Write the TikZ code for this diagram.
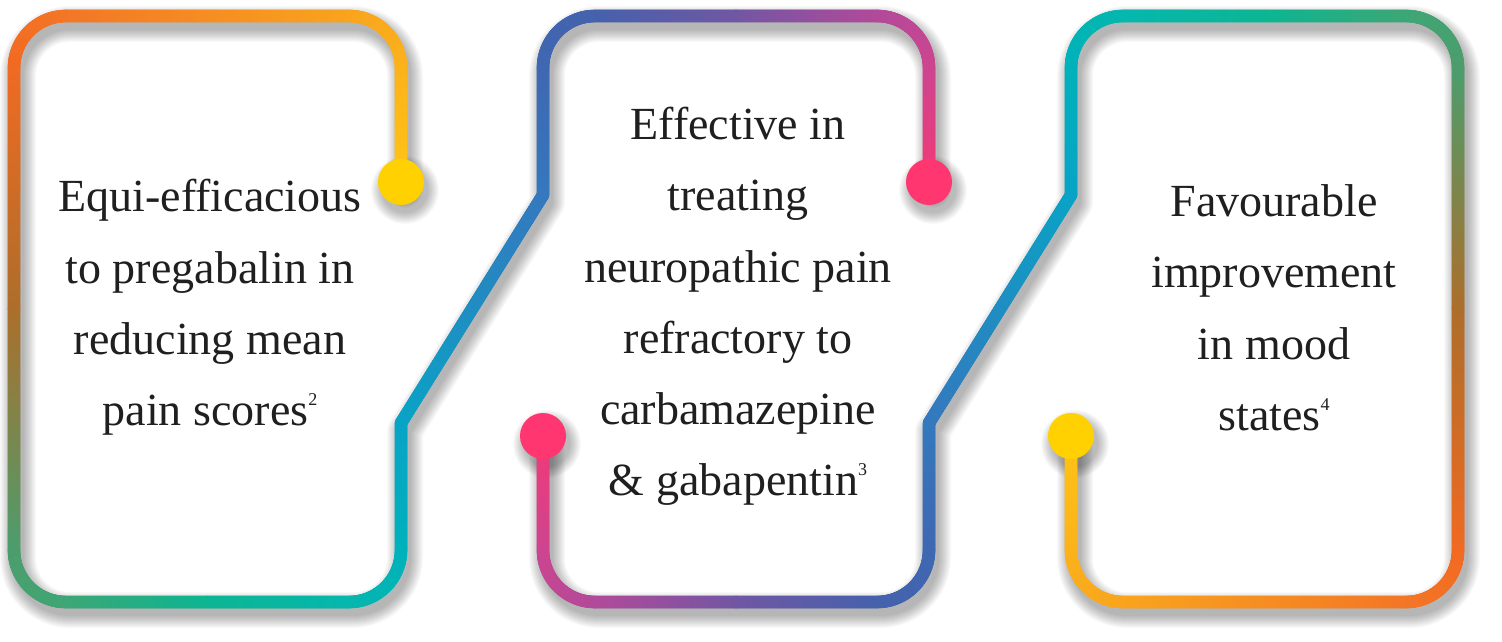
\documentclass[tikz,border=0pt]{standalone}
\usepackage{fontspec}
\setmainfont{Liberation Serif}
\usetikzlibrary{decorations.markings}
\definecolor{ink}{HTML}{1F1F1F}
\definecolor{k0}{HTML}{FFD100}
\definecolor{k1}{HTML}{FFC515}
\definecolor{k2}{HTML}{FBB31B}
\definecolor{k3}{HTML}{F9A51D}
\definecolor{k4}{HTML}{F37726}
\definecolor{k5}{HTML}{F26A22}
\definecolor{k6}{HTML}{AE6E2A}
\definecolor{k7}{HTML}{4E9C6C}
\definecolor{k8}{HTML}{3FA674}
\definecolor{k9}{HTML}{0DB592}
\definecolor{k10}{HTML}{05B7AD}
\definecolor{k11}{HTML}{00B2BA}
\definecolor{k12}{HTML}{08A4C6}
\definecolor{k13}{HTML}{3479BE}
\definecolor{k14}{HTML}{3F68B2}
\definecolor{k15}{HTML}{4462AD}
\definecolor{k16}{HTML}{6F57A4}
\definecolor{k17}{HTML}{B04A9A}
\definecolor{k18}{HTML}{CC4590}
\definecolor{k19}{HTML}{F03A78}
\definecolor{k20}{HTML}{FF3670}
\tikzset{
  gs/.style 2 args={decoration={markings, mark=between positions 0 and 1 step 1pt with {%
    \pgfmathsetmacro\pp{max(0,min(100,\pgfkeysvalueof{/pgf/decoration/mark info/distance from start}/\pgfdecoratedpathlength*100))}%
    \fill[#2!\pp!#1] (0,0) circle[radius=6.3];}}, decorate},
  dotnode/.style={circle, minimum size=46pt, inner sep=0pt, draw=none},
  lbl/.style={anchor=base, text=ink, font=\fontsize{46}{71}\selectfont, inner sep=0pt},
  shd/.style={draw=black, draw opacity=0.022, line join=round, line cap=round},
}
\newcommand\supx[1]{\raisebox{20pt}{\fontsize{18}{18}\selectfont #1}}
\newcommand\pathAgrad{%
  \path[gs={k1}{k2}] (401,459) -- (401,573);
  \path[gs={k2}{k3}] (401,573) arc[start angle=0,end angle=90,radius=52];
  \path[gs={k3}{k4}] (349,625) -- (66,625);
  \path[gs={k4}{k5}] (66,625) arc[start angle=90,end angle=180,radius=52];
  \path[gs={k5}{k6}] (14,573) -- (14,332);
  \path[gs={k6}{k7}] (14,332) -- (14,91);
  \path[gs={k7}{k8}] (14,91) arc[start angle=180,end angle=270,radius=52];
  \path[gs={k8}{k9}] (66,39) -- (207.5,39);
  \path[gs={k9}{k10}] (207.5,39) -- (349,39);
  \path[gs={k10}{k11}] (349,39) arc[start angle=270,end angle=360,radius=52];
  \path[gs={k11}{k12}] (401,91) -- (401,218);
  \path[gs={k12}{k13}] (401,218) -- (543,446);
  \path[gs={k13}{k14}] (543,446) -- (543,573);
  \path[gs={k14}{k15}] (543,573) arc[start angle=180,end angle=90,radius=52];
  \path[gs={k15}{k16}] (595,625) -- (736,625);
  \path[gs={k16}{k17}] (736,625) -- (877,625);
  \path[gs={k17}{k18}] (877,625) arc[start angle=90,end angle=0,radius=52];
  \path[gs={k18}{k19}] (929,573) -- (929,459);
}
\newcommand\pathAshadow[1]{%
  \draw[shd, line width=#1pt] (401,459) -- (401,573) arc[start angle=0,end angle=90,radius=52]
    -- (66,625) arc[start angle=90,end angle=180,radius=52]
    -- (14,91) arc[start angle=180,end angle=270,radius=52]
    -- (349,39) arc[start angle=270,end angle=360,radius=52]
    -- (401,218) -- (543,446) -- (543,573) arc[start angle=180,end angle=90,radius=52]
    -- (877,625) arc[start angle=90,end angle=0,radius=52] -- (929,459);
}
\begin{document}
\begin{tikzpicture}[x=1pt,y=1pt]
\useasboundingbox (0,0) rectangle (1502,641);
\fill[white] (0,0) rectangle (1502,641);
% shadows
\begin{scope}[shift={(4,-8)}]
  \foreach \w in {12,14,...,36} {\pathAshadow{\w}}
  \begin{scope}[rotate around={180:(736,332)}]
    \foreach \w in {12,14,...,36} {\pathAshadow{\w}}
  \end{scope}
  \foreach \r in {23,24,...,34} {
    \fill[black, fill opacity=0.022] (401,459) circle[radius=\r];
    \fill[black, fill opacity=0.022] (929,459) circle[radius=\r];
    \fill[black, fill opacity=0.022] (543,205) circle[radius=\r];
    \fill[black, fill opacity=0.022] (1071,205) circle[radius=\r];
  }
\end{scope}
% gradient lines
\pathAgrad
\begin{scope}[rotate around={180:(736,332)}]
  \pathAgrad
\end{scope}
% dots
\node[dotnode, fill=k0] (d1) at (401,459) {};
\node[dotnode, fill=k20] (d2) at (929,459) {};
\node[dotnode, fill=k20] (d3) at (543,205) {};
\node[dotnode, fill=k0] (d4) at (1071,205) {};
% texts
\node[lbl] (t1a) at (210,429) {Equi-efficacious};
\node[lbl] (t1b) at (210,358) {to pregabalin in};
\node[lbl] (t1c) at (210,287) {reducing mean};
\node[lbl] (t1d) at (210,216) {pain scores\supx{2}};
\node[lbl] (t2a) at (738,501) {Effective in};
\node[lbl] (t2b) at (738,430) {treating};
\node[lbl] (t2c) at (738,359) {neuropathic pain};
\node[lbl] (t2d) at (738,288) {refractory to};
\node[lbl] (t2e) at (738,217) {carbamazepine};
\node[lbl] (t2f) at (738,146) {\& gabapentin\supx{3}};
\node[lbl] (t3a) at (1274,424) {Favourable};
\node[lbl] (t3b) at (1274,353) {improvement};
\node[lbl] (t3c) at (1274,282) {in mood};
\node[lbl] (t3d) at (1274,211) {states\supx{4}};
\end{tikzpicture}
\end{document}
